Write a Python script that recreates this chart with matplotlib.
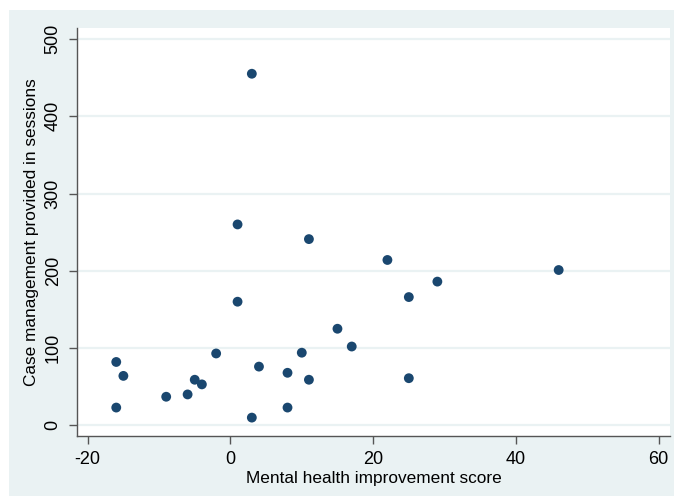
import matplotlib
matplotlib.use("Agg")
import matplotlib.pyplot as plt
from matplotlib.patches import Rectangle

# Data
improvement = [3, 1, 11, 22, 46, 29, 25, 1, 15, 17, 10, -2, -16, -15, 4, 8,
               -5, -4, -9, -6, 11, 25, -16, 3, 8]
sessions = [455, 260, 241, 214, 201, 186, 166, 160, 125, 102, 94, 93, 82, 64, 76, 68,
            59, 53, 37, 40, 59, 61, 23, 10, 23]

x_ticks = [-20, 0, 20, 40, 60]
y_ticks = [0, 100, 200, 300, 400, 500]
x_label = "Mental health improvement score"
y_label = "Case management provided in sessions"

W, H = 674, 496
plt.rcParams['font.family'] = ['Liberation Sans', 'DejaVu Sans']
plt.rcParams['axes.unicode_minus'] = False
fig = plt.figure(figsize=(W / 100, H / 100), dpi=100)
fig.patch.set_facecolor("white")
bg = Rectangle((9 / W, 0), 1 - 9 / W, 1 - 10 / H, transform=fig.transFigure,
               facecolor="#EAF2F3", edgecolor="none", zorder=-10)
fig.add_artist(bg)

left, right, top, bottom = 77, 670, 28, 436
ax = fig.add_axes([left / W, 1 - bottom / H, (right - left) / W, (bottom - top) / H])
ax.set_zorder(1)
ax.set_facecolor("white")

ax.scatter(improvement, sessions, s=50, color="#1A476F", edgecolors="none", zorder=3)

ax.set_xlim(-21.5, 61.6)
ax.set_ylim(-13.8, 514.2)
ax.set_xticks(x_ticks)
ax.set_xticklabels([str(v) for v in x_ticks])
ax.set_yticks(y_ticks)
ax.set_yticklabels([str(v) for v in y_ticks], rotation=90, va="center")
ax.grid(axis="y", color="#EAF2F3", linewidth=1.6, zorder=1)
ax.grid(axis="x", visible=False)
ax.set_axisbelow(True)

for s in ["top", "right"]:
    ax.spines[s].set_visible(False)
for s in ["left", "bottom"]:
    ax.spines[s].set_color("#555555")
    ax.spines[s].set_linewidth(1.0)
ax.tick_params(axis="both", colors="#555555", labelcolor="black", labelsize=13,
               length=6, width=1.0)
ax.tick_params(axis="x", pad=5)
ax.tick_params(axis="y", pad=5)

ax.set_xlabel(x_label, fontsize=12.4, labelpad=2)
ax.set_ylabel(y_label, fontsize=12.4, labelpad=4)

fig.savefig("out.png", dpi=100, facecolor=fig.get_facecolor())
